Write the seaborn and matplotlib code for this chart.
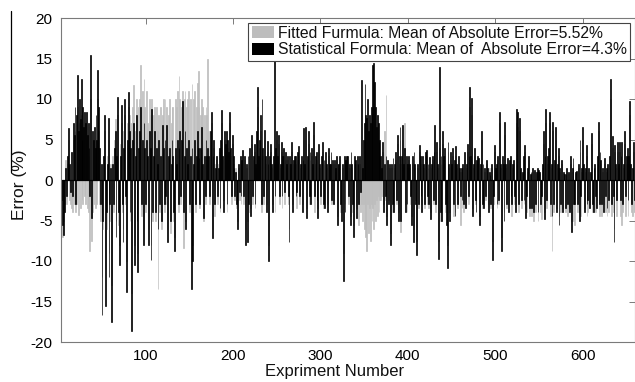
import numpy as np
import pandas as pd
import matplotlib
matplotlib.use("Agg")
import matplotlib.pyplot as plt
import seaborn as sns
from matplotlib.patches import Patch
from matplotlib.lines import Line2D

sns.set_theme(style="white")
plt.rcParams["font.family"] = ["Liberation Sans", "DejaVu Sans"]

experiment = list(range(1, 661))

statistical_error = [
    3.0, 4.5, 2.0, -2.5, -5.5, -6.8, -4.0, 1.5, -2.0, 3.0,
    1.5, 6.4, 2.0, -1.5, 3.5, -2.0, 7.0, 5.5, 9.0, -3.0,
    8.0, 13.0, 6.0, 10.0, 7.5, 12.5, 5.0, 9.0, 6.5, 8.4,
    7.0, 8.4, 5.5, 7.0, 4.0, -2.0, 15.4, -4.7, 6.0, 5.0,
    6.6, 4.0, 8.0, 5.0, 13.6, 9.0, 4.0, -3.0, 2.0, -16.7,
    -5.0, 3.0, 8.0, -15.5, -4.0, 2.0, 7.6, -12.0, -3.0, 1.5,
    -17.5, 2.0, -3.0, 4.0, 6.0, -7.0, 3.0, 10.3, -4.0, -10.5,
    3.0, 9.3, -3.0, -7.6, 4.0, 10.0, -2.0, -13.8, 5.0, 10.9,
    6.0, -4.0, 4.0, -18.7, 5.0, 7.0, -10.5, 3.0, 8.0, -5.0,
    -11.3, 4.0, 6.0, 9.0, -3.0, 5.0, -8.0, 7.0, 4.0, -3.0,
    5.0, 3.0, -8.0, 6.0, 4.0, -9.9, 8.8, -4.0, 3.0, 6.0,
    -4.0, 4.0, 2.0, -6.0, 5.0, -3.0, 3.0, -5.0, 6.8, 4.0,
    -3.0, 5.0, -2.0, 6.8, -7.6, 3.0, 4.0, -5.0, 2.0, 5.0,
    3.0, -4.0, -8.8, 4.0, 2.0, 5.0, -3.0, 4.0, 6.0, -2.0,
    5.0, 9.7, -4.0, 3.0, 6.0, -6.0, 4.0, 2.0, 5.0, -3.0,
    3.0, -13.4, 4.0, -10.0, 2.0, 5.0, -3.0, 3.0, 6.0, 4.0,
    2.7, -3.0, 4.0, 6.6, 2.0, -4.7, 3.0, -2.0, 5.0, 3.0,
    4.0, 3.0, -2.0, 6.0, 8.4, -7.2, 3.0, 5.0, -3.0, 1.5,
    3.0, -2.0, 1.5, 4.0, -3.5, 5.0, 8.6, 3.0, -4.0, 6.0,
    4.5, 6.0, -3.0, 5.0, 3.5, 8.4, 4.0, -2.0, 5.5, 3.0,
    1.5, -2.0, 1.0, -3.0, -6.0, 2.0, -1.5, 3.0, -2.0, 2.5,
    3.7, -2.0, 3.0, -8.0, 2.0, -7.6, 3.0, -3.0, 4.0, -4.5,
    5.6, -2.0, 3.0, 4.5, -3.0, 2.0, 6.0, 11.5, 3.0, 5.0,
    8.0, -3.0, 10.0, 4.0, -2.0, 6.2, 3.0, -4.0, 4.8, 2.0,
    -10.0, 3.0, 4.5, 2.0, -4.0, 3.0, 15.0, -2.0, 4.0, 6.0,
    3.0, 5.6, -2.0, 2.0, 4.7, -2.0, 3.0, 4.0, -1.5, 3.5,
    2.0, 3.0, -2.0, -7.6, 3.0, 2.0, 4.7, -4.0, 2.5, 3.0,
    3.0, -2.0, -1.5, 3.5, 4.2, -2.0, 2.0, 3.0, -4.0, 2.5,
    6.4, 2.0, 6.6, -4.7, 3.0, 6.0, -2.0, 3.5, -3.0, 4.0,
    2.0, 7.2, -2.0, 3.0, 3.5, -2.5, -4.7, 4.5, 2.0, -2.0,
    3.0, 4.7, -3.0, 2.5, -3.5, 3.5, 2.0, -4.0, 4.0, 2.0,
    2.0, 3.5, -2.5, 2.5, -3.0, 2.5, 1.5, 3.0, -5.6, 2.0,
    2.0, 3.0, -3.0, -5.0, 2.0, -12.5, 3.0, -4.0, 2.5, 3.0,
    3.0, -2.0, 2.0, -5.6, 3.4, 2.0, -3.0, -7.0, 3.0, 2.5,
    -4.7, 3.0, 2.0, -3.0, 3.0, -1.5, 12.3, 1.5, 5.0, 7.0,
    11.9, 8.0, 7.6, 10.0, 6.0, 8.0, 7.0, 9.0, 8.0, 14.2,
    14.5, 12.1, 9.0, 6.6, 8.0, 7.0, 4.7, 5.0, 3.0, 1.5,
    4.7, -4.0, 2.0, -2.0, 3.0, -5.6, 2.5, -3.0, 2.0, -8.0,
    2.0, -3.0, 2.7, -4.0, 2.0, 3.5, -2.5, 5.5, -5.0, 3.0,
    6.6, -5.0, 3.0, 6.8, 2.0, 4.0, -4.0, 3.0, -3.0, 2.0,
    3.0, 2.0, -2.0, -5.6, 3.0, -7.6, 3.5, 2.0, -3.0, -9.3,
    2.0, -3.0, 4.3, 3.0, -2.0, -4.0, 3.0, 2.0, -3.0, 3.5,
    3.7, -2.0, 2.0, -3.0, 2.8, -4.8, 2.0, 3.0, -2.5, 3.5,
    6.8, -3.0, 4.7, 2.0, -9.7, 14.0, -4.0, 3.0, -5.0, 6.0,
    3.0, 4.0, -3.0, -5.5, -10.9, 4.7, 2.0, -5.0, 3.5, 2.0,
    4.0, -3.0, 2.5, -4.5, 4.2, 2.0, -3.0, 3.0, 1.5, -2.0,
    1.5, -2.5, 2.0, -3.0, 3.5, -3.5, 2.0, 4.5, -2.0, 3.0,
    11.5, 3.0, 10.1, -4.5, 2.0, 4.0, -2.5, -4.0, 2.5, 3.0,
    2.7, -5.6, 2.0, 6.0, -3.0, 2.0, -3.5, 1.5, -2.0, 2.5,
    1.5, -4.0, 1.0, 0.6, -3.0, 2.0, -9.9, -2.0, 4.3, 1.5,
    2.0, -3.0, 3.0, -2.5, 8.4, 2.0, -8.8, 3.0, 2.0, -5.0,
    7.2, 2.0, -3.0, 2.7, -4.0, 2.5, 3.0, -2.0, -3.0, 2.0,
    2.5, -2.0, -4.0, 8.8, 2.0, 8.4, -3.0, 7.6, 1.5, -2.5,
    1.0, 3.0, -2.5, 4.3, -4.7, -2.0, 1.5, 3.0, -3.5, 0.8,
    1.0, -3.5, 1.5, -4.0, 1.2, -3.0, 1.0, 1.5, -4.0, 1.2,
    1.0, -3.0, -2.0, 2.0, 6.0, -4.8, 3.0, 8.8, -2.5, 3.0,
    4.0, 8.4, -3.0, 2.0, -4.5, 7.2, -3.0, 2.5, 6.5, -4.0,
    2.0, 4.0, -5.6, 1.5, -3.0, 2.5, -4.0, 1.0, 0.8, -3.5,
    0.8, 1.5, -3.0, 1.0, -4.0, 3.0, -6.4, 1.5, 2.7, -3.0,
    -3.0, 1.0, 1.1, -3.0, 2.0, -5.0, 4.9, -2.0, 1.5, 6.6,
    2.0, -4.0, 1.5, 4.3, -3.0, -2.5, 1.5, -3.5, 1.0, 5.8,
    -3.0, -4.0, 1.5, 2.0, -2.0, -3.5, 3.0, 7.2, -3.0, 3.5,
    2.5, -3.0, 1.5, -4.0, 2.7, -2.0, 1.5, -3.5, 2.0, -2.5,
    3.0, 12.5, -3.0, 5.4, -2.0, -7.6, 4.3, 2.0, -2.5, 4.7,
    2.0, 4.7, -2.5, 3.0, 4.7, -3.0, 2.0, 6.0, -2.0, 3.0,
    4.0, -2.5, 3.0, 9.7, 2.0, -3.0, 1.5, 4.7, -2.5, 3.0,
]

fitted_error = [
    2.0, 3.5, 1.5, -3.5, -7.0, -5.0, -3.0, 2.5, -3.0, 2.0,
    2.5, 5.0, -2.5, -3.0, -3.5, -4.0, 5.0, -3.0, 6.0, -4.0,
    -3.0, 9.0, -4.3, 7.0, -3.5, 8.0, -2.5, -3.0, 5.0, -2.0,
    -3.0, 5.0, -3.5, -4.0, 3.0, -8.8, 10.0, -7.5, -4.0, -3.0,
    4.0, -3.5, 5.0, -3.0, 10.0, 6.0, -3.0, -5.0, -4.0, -12.0,
    -6.0, 2.0, 6.0, -11.0, -6.0, 3.0, 5.0, -9.0, -5.0, 2.0,
    -13.0, 3.0, -4.0, 5.0, 7.5, -5.0, 5.0, 8.0, -5.5, -8.0,
    4.5, 7.0, -4.0, -6.0, 6.0, 8.0, -3.0, -10.0, 7.0, 9.0,
    8.0, -5.0, 7.0, -14.0, 9.0, 11.7, -8.0, 6.0, 10.0, -4.0,
    -9.0, 9.0, 10.0, 14.2, -4.5, 11.0, -6.0, 12.5, 9.0, -4.0,
    11.0, 7.0, -6.0, 10.0, 8.0, -8.0, 10.0, -5.0, 8.0, 9.0,
    -5.0, 9.0, 6.0, -13.4, 8.0, -4.0, 9.0, -6.0, 8.0, 10.0,
    -4.0, 10.0, -3.0, 9.0, -6.0, 8.0, 10.0, -6.5, 7.0, 9.0,
    9.0, -5.0, -7.0, 10.0, 9.0, 11.0, -4.0, 12.8, 10.0, -3.0,
    9.0, 11.0, -8.4, 10.0, 11.0, -5.0, 9.0, 10.0, 11.0, -4.0,
    10.0, -10.0, 11.9, -8.0, 10.0, 11.0, -4.0, 9.0, 12.0, 13.4,
    9.0, -3.5, 8.0, 10.0, 9.0, -5.0, 8.0, -3.0, 9.0, 8.0,
    15.0, 6.0, -3.0, 5.0, 7.0, -6.0, 4.0, 4.0, -4.5, 2.0,
    2.5, -3.0, 2.0, 3.5, -4.0, 4.0, 7.0, 2.5, -2.5, 5.0,
    3.5, 5.0, -4.0, 4.0, 3.0, 7.0, 3.0, -3.0, 4.5, 2.0,
    1.0, -2.5, 1.5, -3.5, -5.0, 1.5, -2.5, 2.0, -3.0, 2.0,
    3.0, -3.0, 2.5, -6.0, 1.5, -5.0, 2.0, -4.0, 3.0, -3.5,
    4.5, -3.0, 2.5, 3.5, -3.5, 1.5, 5.0, 9.0, 2.0, 4.0,
    6.0, -4.0, 8.0, 3.0, -3.0, 5.0, 2.0, -3.0, 3.5, 1.5,
    -8.0, 2.5, 3.5, 1.5, -3.0, 2.0, 2.0, -4.0, 3.0, 5.0,
    2.0, 4.5, -3.0, 1.5, 3.5, -3.5, 2.0, 3.0, -3.0, 2.5,
    1.5, 2.5, -3.0, -6.0, 2.0, 1.5, 3.5, -3.0, 2.0, 2.0,
    2.0, -2.5, -3.5, 2.5, 3.0, -3.0, 1.5, 2.0, -3.0, 2.0,
    5.0, 1.5, 5.0, -3.5, 2.5, 4.5, -3.0, 2.5, -2.0, 3.0,
    1.5, 5.5, -4.0, 2.0, 2.5, -3.0, -3.5, 3.5, 1.5, -3.0,
    2.0, 3.5, -3.5, 2.0, -3.0, 2.5, 1.5, -3.0, 3.0, 1.5,
    1.5, 3.0, -3.0, 2.0, -2.5, 2.0, 1.0, 2.5, -4.5, 1.5,
    1.5, 2.0, -4.0, -4.0, 1.5, -9.0, 2.0, -3.0, 2.0, 2.0,
    2.0, -3.0, 1.5, -4.5, 2.5, 1.5, -4.0, -5.5, 2.0, 2.0,
    -3.5, 2.0, 1.5, -5.6, 2.0, -4.0, -3.0, -5.0, -3.0, -6.0,
    -3.5, -7.0, -8.8, -3.0, -6.5, -3.5, -7.5, -3.0, -5.0, -3.5,
    -6.0, -3.0, -5.0, -2.5, -4.5, -2.0, -4.0, -2.5, -2.5, -2.0,
    3.5, -3.0, 6.0, -2.5, 10.5, -4.5, 2.0, -2.5, 1.5, -6.5,
    1.5, -4.0, 2.0, -3.0, 1.5, 2.5, -3.0, 4.5, -4.0, 2.0,
    5.0, -6.4, 2.0, 5.0, 1.5, 7.0, -3.0, 2.0, -4.0, 1.5,
    2.5, 1.5, -3.0, -4.5, 2.0, -6.0, 2.5, 1.5, -2.5, -7.5,
    1.5, -3.5, 3.5, 2.0, -3.0, -3.0, 2.0, 1.5, -3.5, 3.0,
    3.0, -3.0, 1.5, -3.5, 2.0, -4.0, 1.5, 2.5, -3.0, 2.5,
    5.0, -4.0, 3.5, 1.5, -7.5, 4.0, -5.0, 2.0, -4.0, 4.5,
    2.0, 3.0, -4.0, -4.0, -8.0, 3.5, 1.5, -4.0, 2.5, 1.5,
    3.0, -4.5, 2.0, -4.0, 3.0, 1.5, -3.5, 2.0, 1.0, -5.6,
    1.0, -3.5, 1.5, -4.0, 2.5, -3.0, 1.5, 3.5, -3.0, 2.0,
    9.0, 2.0, 8.0, -3.5, 1.5, 3.0, -3.0, -3.0, 2.0, 2.5,
    2.0, -4.5, 1.5, 5.0, -3.5, 1.5, -3.0, 1.0, -2.5, 2.0,
    1.0, -3.0, 1.5, 0.5, -3.5, 1.5, -7.5, -3.0, 3.5, 1.0,
    1.5, -3.5, 2.5, -3.0, 7.0, 1.5, -7.0, 2.0, 1.5, -4.0,
    5.5, 1.5, -3.5, 2.0, -3.0, 2.0, 2.5, -3.0, -4.5, 1.5,
    2.0, -3.0, -3.0, 7.0, 1.5, 6.5, -4.0, 6.0, 1.0, -3.5,
    0.8, 2.5, -3.0, 3.5, -3.5, -4.0, 1.0, 2.5, -4.5, 0.6,
    0.8, -4.5, 1.0, -5.0, 1.0, -4.0, 0.8, 1.0, -5.0, 1.0,
    0.8, -4.0, -4.8, 1.5, 4.5, -4.0, 2.0, 7.0, -3.5, 2.0,
    3.0, 7.0, -4.5, 1.5, -8.8, 6.0, -4.0, 2.0, 5.0, -3.5,
    1.5, 3.0, -4.5, 1.0, -4.0, 2.0, -3.5, 0.8, 0.6, -4.0,
    0.6, 1.0, -4.5, 0.8, -3.5, 2.0, -5.0, 1.0, 2.0, -5.0,
    -5.6, 0.8, 1.0, -4.0, 1.5, -4.0, 3.5, -4.5, 1.0, 5.0,
    1.5, -3.5, 1.0, 3.0, -4.5, -4.0, 1.0, -3.0, 0.8, 4.5,
    -4.0, -3.0, 1.0, 1.5, -4.0, -2.5, 2.0, 6.0, -4.5, 2.5,
    2.0, -4.5, 1.0, -3.0, 2.0, -4.0, 1.0, -4.5, 1.5, -4.0,
    2.0, 10.0, -4.5, 4.0, -4.0, -6.0, 3.5, 1.5, -4.5, 3.5,
    1.5, 3.5, -4.5, 2.0, -5.6, -4.0, 1.5, 4.5, -4.5, 2.0,
    3.0, -4.5, 2.0, 8.0, 1.5, -4.0, -4.5, 3.5, -4.0, 2.0,
]

assert len(statistical_error) == len(experiment) == len(fitted_error)

legend_labels = [
    "Fitted Furmula: Mean of Absolute Error=5.52%",
    "Statistical Formula: Mean of  Absolute Error=4.3%",
]
x_ticks = [100, 200, 300, 400, 500, 600]
y_ticks = [-20, -15, -10, -5, 0, 5, 10, 15, 20]

df = pd.DataFrame({
    "Expriment": experiment,
    "Fitted": fitted_error,
    "Statistical": statistical_error,
})

gray = "#bdbdbd"
fig = plt.figure(figsize=(6.35, 3.82), dpi=100)
ax = fig.add_axes([61 / 635, 40 / 382, 574 / 635, 324 / 382])

sns.barplot(data=df, x="Expriment", y="Fitted", native_scale=True, width=1,
            color=gray, saturation=1, errorbar=None, edgecolor=gray,
            linewidth=0.5, ax=ax)
sns.barplot(data=df, x="Expriment", y="Statistical", native_scale=True, width=1,
            color="black", saturation=1, errorbar=None, edgecolor="black",
            linewidth=0.5, ax=ax)
ax.axhline(0, color="black", lw=0.9)

ax.set_xlim(3, 660)
ax.set_ylim(-20, 20)
ax.set_xticks(x_ticks)
ax.set_yticks(y_ticks)
ax.set_xticklabels([str(t) for t in x_ticks])
ax.set_yticklabels([str(t) for t in y_ticks])

frame_col = "#7a7a7a"
for s in ax.spines.values():
    s.set_visible(True)
    s.set_color(frame_col)
    s.set_linewidth(0.8)
ax.tick_params(direction="in", top=True, right=True, length=4, width=0.7,
               color=frame_col, labelsize=11, labelcolor="black")
ax.tick_params(axis="x", pad=5)
ax.tick_params(axis="y", pad=6)

ax.set_xlabel("Expriment Number", fontsize=12, color="#111111")
ax.set_ylabel("Error (%)", fontsize=12.5, color="#111111")
ax.xaxis.set_label_coords(0.476, -0.068)
ax.yaxis.set_label_coords(-0.06, 0.485)

handles = [Patch(facecolor=gray, edgecolor="none"),
           Patch(facecolor="black", edgecolor="none")]
leg = ax.legend(handles, legend_labels, loc="upper right", fontsize=11.3,
                frameon=True, fancybox=False, framealpha=1, edgecolor="#444444",
                borderaxespad=0.3, handlelength=1.45, handleheight=0.8,
                handletextpad=0.25, labelspacing=0.1, borderpad=0.2)
leg.get_frame().set_linewidth(0.8)
for t in leg.get_texts():
    t.set_color("#111111")

fig.add_artist(Line2D([10.5 / 635, 10.5 / 635], [1 - 11 / 382, 1 - 172 / 382],
                      color="black", lw=0.9, transform=fig.transFigure))

fig.savefig("out.png", dpi=100)
